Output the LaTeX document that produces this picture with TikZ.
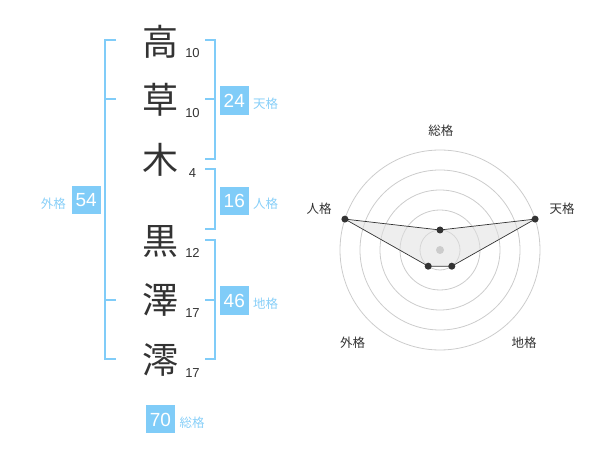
\documentclass[tikz,border=0pt]{standalone}
\usepackage{fontspec}
\setmainfont{Liberation Sans}
\newfontfamily\cjk{Noto Sans CJK JP}
\definecolor{kblue}{HTML}{80CCF8}
\definecolor{klab}{HTML}{88CFF8}
\definecolor{ink}{HTML}{333333}
\definecolor{ring}{HTML}{CCCCCC}
\tikzset{
  kanji/.style={inner sep=0pt, text=ink, font=\cjk\fontsize{36}{36}\selectfont, text height=29.9pt, text depth=2.5pt},
  stroke/.style={anchor=base, inner sep=0pt, text=ink, font=\fontsize{13}{13}\selectfont},
  valbox/.style={fill=kblue, text=white, inner sep=0pt, minimum width=29pt, minimum height=28.5pt, text height=13.6pt, text depth=0pt, font=\fontsize{19}{19}\selectfont},
  kakulab/.style={inner sep=0pt, text=klab, font=\cjk\fontsize{12.5}{12.5}\selectfont, text height=10.4pt, text depth=0.9pt},
  radlab/.style={inner sep=0pt, text=ink, font=\cjk\fontsize{12.5}{12.5}\selectfont, text height=10.4pt, text depth=0.9pt},
  bracket/.style={draw=kblue, line width=2pt},
  ringline/.style={draw=ring, line width=0.8pt},
  dot/.style={circle, fill=ink, inner sep=0pt, minimum size=7pt},
  hub/.style={circle, fill=ring, inner sep=0pt, minimum size=8pt}
}
\begin{document}
\begin{tikzpicture}[x=1pt, y=-1pt]
\useasboundingbox (0,0) rectangle (600,470);

% name characters
\node[kanji] (k1) at (160,41.7) {高};
\node[kanji] (k2) at (160,100.2) {草};
\node[kanji] (k3) at (160,159.5) {木};
\node[kanji] (k4) at (160,241) {黒};
\node[kanji] (k5) at (160,300.2) {澤};
\node[kanji] (k6) at (160,360) {澪};

% stroke counts
\node[stroke] (s1) at (192.5,57.3) {10};
\node[stroke] (s2) at (192.5,117.3) {10};
\node[stroke] (s3) at (192.5,177.3) {4};
\node[stroke] (s4) at (192.5,257.3) {12};
\node[stroke] (s5) at (192.5,317.3) {17};
\node[stroke] (s6) at (192.5,377.3) {17};

% brackets
\draw[bracket] (116,40) -- (105,40) -- (105,359.3) -- (116,359.3);
\draw[bracket] (105,99.3) -- (116,99.3);
\draw[bracket] (105,300) -- (116,300);

\draw[bracket] (205,40) -- (214.5,40) -- (214.5,159.3) -- (205,159.3);
\draw[bracket] (205,99.3) -- (214.5,99.3);
\draw[bracket] (205,169.3) -- (214.5,169.3) -- (214.5,229.3) -- (205,229.3);
\draw[bracket] (205,240) -- (214.5,240) -- (214.5,359.3) -- (205,359.3);
\draw[bracket] (205,300) -- (214.5,300);

% value boxes and labels
\node[valbox] (gai) at (86.2,200.2) {54};
\node[kakulab] (gail) at (53.3,203.8) {外格};
\node[valbox] (ten) at (234.3,100.5) {24};
\node[kakulab] (tenl) at (265.5,104.2) {天格};
\node[valbox] (jin) at (234.3,200.8) {16};
\node[kakulab] (jinl) at (265.5,204.2) {人格};
\node[valbox] (chi) at (234.3,300.5) {46};
\node[kakulab] (chil) at (265.5,304.2) {地格};
\node[valbox] (sou) at (160.5,419.2) {70};
\node[kakulab] (soul) at (192,422.8) {総格};

% radar chart
\coordinate (C) at (440,250);
\foreach \r in {20,40,60,80,100} \draw[ringline] (C) circle[radius=\r];
\coordinate (pS) at (440,230);
\coordinate (pT) at (535.1,219.1);
\coordinate (pC) at (451.8,266.2);
\coordinate (pG) at (428.2,266.2);
\coordinate (pJ) at (344.9,219.1);
\fill[black!12, fill opacity=0.55] (pS) -- (pT) -- (pC) -- (pG) -- (pJ) -- cycle;
\node[hub] (hub) at (C) {};
\draw[ink, line width=0.7pt] (pS) -- (pT) -- (pC) -- (pG) -- (pJ) -- cycle;
\node[dot] (dS) at (pS) {};
\node[dot] (dT) at (pT) {};
\node[dot] (dC) at (pC) {};
\node[dot] (dG) at (pG) {};
\node[dot] (dJ) at (pJ) {};

\node[radlab] (lS) at (440.8,130.5) {総格};
\node[radlab] (lT) at (562,208.7) {天格};
\node[radlab] (lJ) at (319.2,208.7) {人格};
\node[radlab] (lG) at (352.5,342.5) {外格};
\node[radlab] (lC) at (524.2,342.5) {地格};
\end{tikzpicture}
\end{document}
